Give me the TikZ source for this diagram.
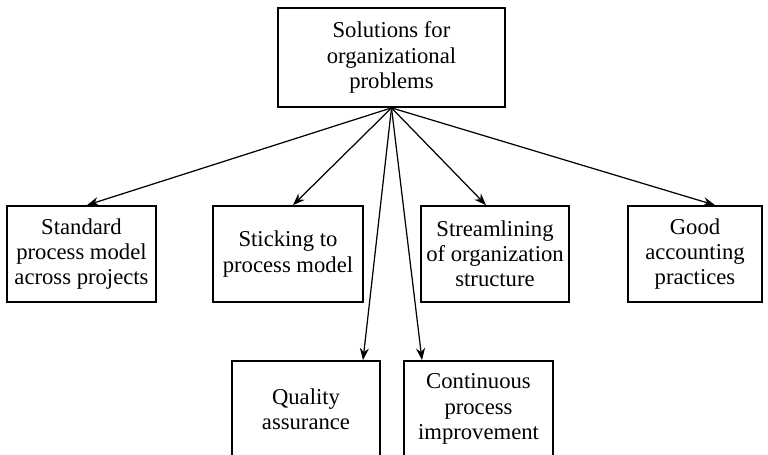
\documentclass[tikz,border=0pt]{standalone}
\usepackage{fontspec}
\setmainfont{Liberation Serif}
\usetikzlibrary{positioning, arrows.meta}

\begin{document}
\begin{tikzpicture}[>={Stealth[length=2.4mm, width=1.8mm]},
	box/.style={draw, rectangle, line width=1pt, align=center, inner sep=0pt,
		minimum height=19.2mm, font=\fontsize{12.9}{14.3}\selectfont},
	link/.style={->, line width=0.7pt}]
	\useasboundingbox (0, 0) rectangle (15.36, 9.08);
	\clip (0, 0) rectangle (15.36, 9.08);

	\node[box, minimum width=45.4mm, minimum height=19.8mm] (top) at (7.83, 7.93) {Solutions for\\organizational\\problems};

	\node[box, minimum width=29.8mm] (standard) at (1.63, 4.0) {Standard\\process model\\across projects};
	\node[box, minimum width=30mm] (sticking) at (5.76, 4.0) {Sticking to\\process model};
	\node[box, minimum width=29.6mm] (streamline) at (9.90, 4.0) {Streamlining\\of organization\\structure};
	\node[box, minimum width=26.8mm] (accounting) at (13.90, 4.0) {Good\\accounting\\practices};

	% bottom row runs off the lower edge
	\node[box, minimum width=29.6mm] (quality) at (6.12, 0.9) {Quality\\assurance};
	\node[box, minimum width=29.8mm] (continuous) at (9.57, 0.9) {Continuous\\process\\improvement};

	\draw [link] (top.south) -- ([xshift=0.11cm]standard.north);
	\draw [link] (top.south) -- ([xshift=0.10cm]sticking.north);
	\draw [link] (top.south) -- ([xshift=-0.18cm]streamline.north);
	\draw [link] (top.south) -- ([xshift=0.40cm]accounting.north);
	\draw [link] (top.south) -- ([xshift=1.14cm]quality.north);
	\draw [link] (top.south) -- ([xshift=-1.13cm]continuous.north);
\end{tikzpicture}
\end{document}
